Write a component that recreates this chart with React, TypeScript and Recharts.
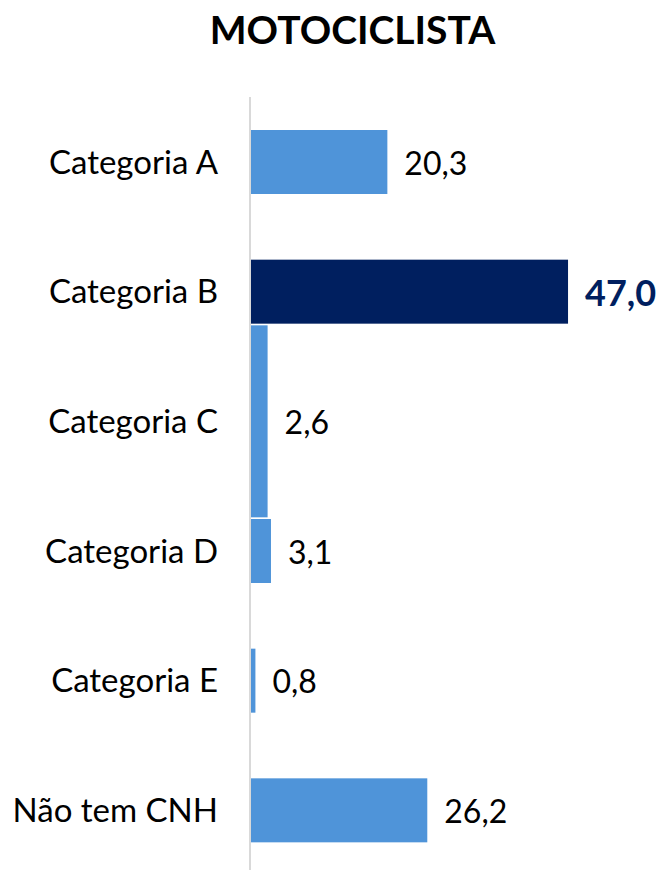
import React from 'react';
import { BarChart, Bar, XAxis, YAxis, Cell, LabelList } from 'recharts';

const categories = ['Categoria A', 'Categoria B', 'Categoria C', 'Categoria D', 'Categoria E', 'Não tem CNH'];
const values = [20.3, 47.0, 2.6, 3.1, 0.8, 26.2];
const highlight = 'Categoria B';

const data = categories.map((name, i) => ({ name, value: values[i] }));

const LIGHT = '#4F94D9';
const NAVY = '#001F5F';
const FONT = 'Lato, "Open Sans", sans-serif';

const fmt = (v: number) => v.toFixed(1).replace('.', ',');

// the original render stretches the Categoria C bar across the gaps around it
const BarShape = (props: any) => {
  const { x, y, width, height, fill, payload } = props;
  if (payload && payload.name === 'Categoria C') {
    return <rect x={x} y={y - height} width={width} height={height * 3} fill={fill} />;
  }
  return <rect x={x} y={y} width={width} height={height} fill={fill} />;
};

const ValueLabel = (props: any) => {
  const { x, y, width, height, value, index } = props;
  const isHi = categories[index] === highlight;
  return (
    <text
      x={x + width + 17}
      y={y + height / 2}
      dominantBaseline="central"
      fontFamily={FONT}
      fontSize={isHi ? 36 : 32}
      fontWeight={isHi ? 700 : 400}
      fill={isHi ? NAVY : '#000'}
    >
      {fmt(value)}
    </text>
  );
};

export default function App() {
  return (
    <div style={{ position: 'absolute', left: 0, top: 0, width: 664, height: 870, overflow: 'hidden', background: '#fff' }}>
      <div
        style={{
          position: 'absolute',
          left: 0,
          width: 705,
          top: 6,
          textAlign: 'center',
          fontFamily: FONT,
          fontWeight: 700,
          fontSize: 39,
          color: '#000',
        }}
      >
        MOTOCICLISTA
      </div>
      <BarChart
        width={664}
        height={880}
        data={data}
        layout="vertical"
        margin={{ top: 97, right: 8, bottom: 5, left: 0 }}
        barCategoryGap={0}
      >
        <XAxis type="number" domain={[0, 60]} hide />
        <YAxis
          type="category"
          dataKey="name"
          width={250}
          tickSize={0}
          tickMargin={32}
          axisLine={{ stroke: '#D9D9D9', strokeWidth: 2 }}
          tick={{ fontFamily: FONT, fontSize: 33, fill: '#000' }}
        />
        <Bar dataKey="value" barSize={64} isAnimationActive={false} shape={<BarShape />}>
          {data.map((d) => (
            <Cell key={d.name} fill={d.name === highlight ? NAVY : LIGHT} />
          ))}
          <LabelList dataKey="value" content={<ValueLabel />} />
        </Bar>
      </BarChart>
    </div>
  );
}
